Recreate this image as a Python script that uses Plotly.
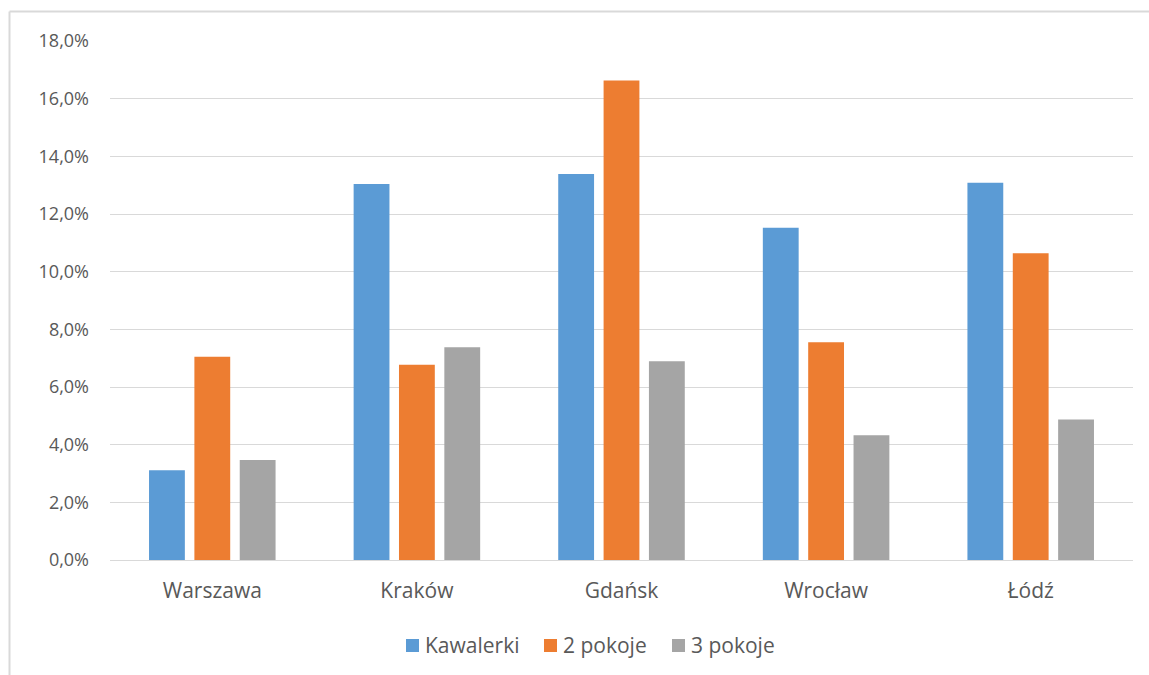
import plotly.graph_objects as go

# Udział procentowy wg miasta i typu mieszkania
cities = ["Warszawa", "Kraków", "Gdańsk", "Wrocław", "Łódź"]
kawalerki = [3.11, 13.04, 13.39, 11.52, 13.08]
dwa_pokoje = [7.05, 6.77, 16.63, 7.55, 10.64]
trzy_pokoje = [3.47, 7.38, 6.89, 4.33, 4.87]

series_names = ["Kawalerki", "2 pokoje", "3 pokoje"]
series_values = [kawalerki, dwa_pokoje, trzy_pokoje]
series_colors = ["#5B9BD5", "#ED7D31", "#A5A5A5"]

y_ticks = [0, 2, 4, 6, 8, 10, 12, 14, 16, 18]
y_tick_labels = ["0,0%", "2,0%", "4,0%", "6,0%", "8,0%", "10,0%",
                 "12,0%", "14,0%", "16,0%", "18,0%"]

FONT = "'Open Sans', 'Segoe UI', sans-serif"
TEXT = "#595959"
GRID = "#D9D9D9"

# geometry of the plotting area (pixels)
W, H = 1149, 675
L, R, T, B = 110, 16, 41, 115
PW, PH = W - L - R, H - T - B


def px_x(px):
    return (px - L) / PW


def px_y(py):
    return (H - B - py) / PH


fig = go.Figure()
for name, vals, col in zip(series_names, series_values, series_colors):
    fig.add_trace(go.Bar(
        x=cities, y=vals, name=name,
        marker=dict(color=col, line=dict(width=0)),
        showlegend=False,
    ))

# legend row: coloured key square followed by the series name
legend_keys = [406, 544, 672]
shapes = []
annotations = []
for name, col, kx in zip(series_names, series_colors, legend_keys):
    shapes.append(dict(
        type="rect", xref="paper", yref="paper",
        x0=px_x(kx), x1=px_x(kx + 13), y0=px_y(652), y1=px_y(639),
        fillcolor=col, line=dict(width=0),
    ))
    annotations.append(dict(
        text=name, xref="paper", yref="paper",
        x=px_x(kx + 17), y=px_y(645), xanchor="left", yanchor="middle",
        showarrow=False, font=dict(family=FONT, color=TEXT, size=21),
    ))

# chart frame (top and left edges)
shapes += [
    dict(type="line", xref="paper", yref="paper",
         x0=px_x(9.5), x1=px_x(1160), y0=px_y(11.5), y1=px_y(11.5),
         line=dict(color=GRID, width=2)),
    dict(type="line", xref="paper", yref="paper",
         x0=px_x(9.5), x1=px_x(9.5), y0=px_y(11.5), y1=px_y(690),
         line=dict(color=GRID, width=2)),
]

fig.update_layout(
    width=W, height=H,
    margin=dict(l=L, r=R, t=T, b=B),
    paper_bgcolor="white", plot_bgcolor="white",
    barmode="group", bargap=0.335, bargroupgap=0.21,
    font=dict(family=FONT, color=TEXT, size=18),
    showlegend=False,
    xaxis=dict(
        showgrid=False, showline=False, zeroline=False,
        ticks="", ticklabelstandoff=16,
        tickfont=dict(family=FONT, color=TEXT, size=21),
    ),
    yaxis=dict(
        range=[0, 18], tickvals=y_ticks, ticktext=y_tick_labels,
        showgrid=True, gridcolor=GRID, gridwidth=1.3,
        zeroline=True, zerolinecolor=GRID, zerolinewidth=1.3,
        showline=False, ticks="", ticklabelstandoff=20,
        tickfont=dict(family=FONT, color=TEXT, size=18),
    ),
    shapes=shapes,
    annotations=annotations,
)

fig.write_html("out.html")
